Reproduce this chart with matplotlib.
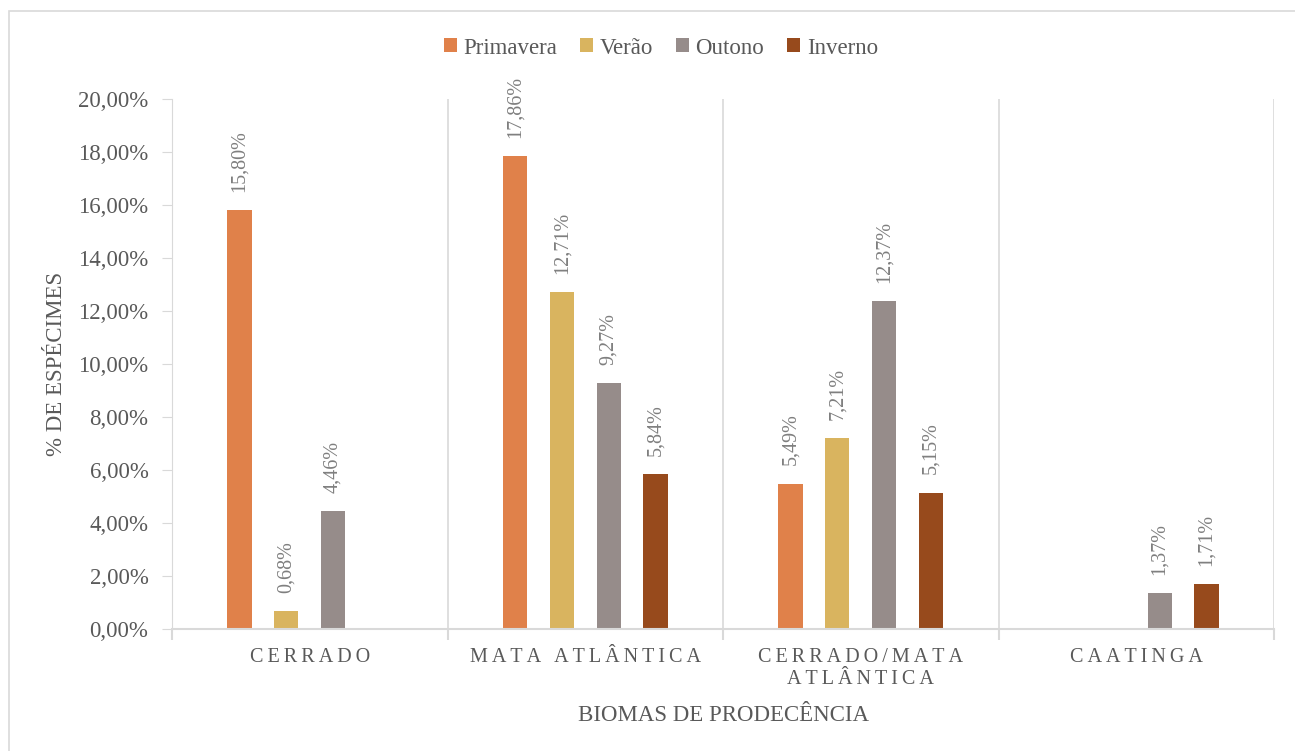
import matplotlib.pyplot as plt
from matplotlib.patches import Rectangle, Patch
from matplotlib.ticker import FixedLocator, FuncFormatter
import numpy as np

plt.rcParams['font.family'] = ['Liberation Serif', 'DejaVu Serif']

# data (fractions of total)
biomas = ["CERRADO", "MATA ATLÂNTICA", "CERRADO/MATA\nATLÂNTICA", "CAATINGA"]
estacoes = ["Primavera", "Verão", "Outono", "Inverno"]
primavera = [0.1580, 0.1786, 0.0549, 0.0]
verao = [0.0068, 0.1271, 0.0721, 0.0]
outono = [0.0446, 0.0927, 0.1237, 0.0137]
inverno = [0.0, 0.0584, 0.0515, 0.0171]
cores = ["#E0814A", "#D9B45F", "#968C8A", "#974A1C"]

series = [primavera, verao, outono, inverno]

grid_c = "#D9D9D9"
txt_c = "#595959"
lbl_c = "#7F7F7F"


def spaced(s):
    # imitate Excel's letter spacing on the category axis
    return "\n".join("\u2009".join(line) for line in s.split("\n"))


fig = plt.figure(figsize=(12.95, 7.51), dpi=100)
ax = fig.add_axes([172 / 1295, 1 - 629 / 751, (1274 - 172) / 1295, (629 - 99) / 751])

x = np.arange(len(biomas))
w = 0.088
step = 0.17
for i, (vals, cor) in enumerate(zip(series, cores)):
    pos = x + (i - 1.5) * step
    for xp, v in zip(pos, vals):
        if v <= 0:
            continue
        ax.bar(xp, v, width=w, color=cor)
        ax.annotate(f"{v * 100:.2f}%".replace(".", ","), (xp, v),
                    xytext=(0, 13), textcoords="offset points",
                    rotation=90, ha="center", va="bottom",
                    fontsize=14.5, color=lbl_c)

ax.set_xlim(-0.5, len(biomas) - 0.5)
ax.set_ylim(0, 0.20)
ax.yaxis.set_major_locator(FixedLocator(np.arange(0, 0.2001, 0.02)))
ax.yaxis.set_major_formatter(FuncFormatter(lambda v, p: f"{v * 100:.2f}%".replace(".", ",")))
ax.tick_params(axis="y", labelsize=16.5, labelcolor=txt_c, color=grid_c, length=7, pad=10)

ax.set_xticks(x)
ax.set_xticklabels([spaced(b) for b in biomas], fontsize=14.5, color=txt_c, linespacing=1.15)
ax.set_xticks(np.arange(-0.5, len(biomas)), minor=True)
ax.tick_params(axis="x", which="major", length=0, pad=14)
ax.tick_params(axis="x", which="minor", length=8, color=grid_c, width=1.5)
ax.grid(axis="x", which="minor", color=grid_c, linewidth=1.2)
ax.set_axisbelow(True)

for side in ["top", "right"]:
    ax.spines[side].set_visible(False)
ax.spines["left"].set_color(grid_c)
ax.spines["bottom"].set_color(grid_c)
ax.spines["bottom"].set_linewidth(1.5)

ax.set_ylabel("% DE ESPÉCIMES", fontsize=16.5, color=txt_c, labelpad=8)
ax.set_xlabel("BIOMAS DE PRODECÊNCIA", fontsize=16.5, color=txt_c, labelpad=12)

handles = [Patch(facecolor=c, label=e) for c, e in zip(cores, estacoes)]
fig.legend(handles=handles, loc="center", bbox_to_anchor=(661 / 1295, 1 - 48 / 751),
           ncol=4, frameon=False, fontsize=16.5, labelcolor=txt_c,
           handlelength=0.55, handleheight=0.55, handletextpad=0.3, columnspacing=1.0)

fig.add_artist(Rectangle((9 / 1295, -0.05), 1.2, 1.05 - 11 / 751, transform=fig.transFigure,
                         fill=False, edgecolor=grid_c, linewidth=1.2))

fig.savefig("out.png", dpi=100)
